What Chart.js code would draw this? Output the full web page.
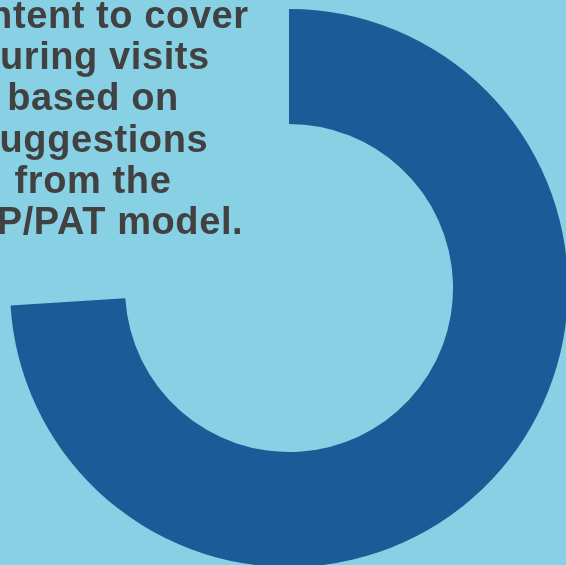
<!DOCTYPE html>
<html>
<head>
<meta charset="utf-8">
<script src="https://cdn.jsdelivr.net/npm/chart.js@4"></script>
<style>
  html, body { margin:0; padding:0; width:566px; height:565px; overflow:hidden; background:#88D0E3; }
  #wrap { position:absolute; left:10px; top:9px; width:558px; height:558px; }
  #txt { position:absolute; left:-107px; top:-5px; width:400px; text-align:center;
         font-family:"Liberation Sans", Arial, sans-serif; font-weight:bold; font-size:38px;
         line-height:41.2px; color:#414141; letter-spacing:0.6px; }
  #txt div { white-space:nowrap; }
</style>
</head>
<body>
<div id="wrap"><canvas id="c" width="558" height="558"></canvas></div>
<div id="txt"></div>
<script>
const categories = ["Covered", "Remaining"];
const values = [74, 26];
const textLines = ["Content to cover", "during visits", "based on", "suggestions", "from the", "ASP/PAT model."];

const txt = document.getElementById('txt');
textLines.forEach(l => { const d = document.createElement('div'); d.textContent = l; txt.appendChild(d); });

new Chart(document.getElementById('c'), {
  type: 'doughnut',
  data: {
    labels: categories,
    datasets: [{
      data: values,
      backgroundColor: ['#1B5B98', 'rgba(0,0,0,0)'],
      borderWidth: 0
    }]
  },
  options: {
    responsive: false,
    animation: false,
    cutout: '58.8%',
    rotation: 0,
    layout: { padding: 0 },
    plugins: { legend: { display: false }, tooltip: { enabled: false }, title: { display: false } }
  }
});
</script>
</body>
</html>
